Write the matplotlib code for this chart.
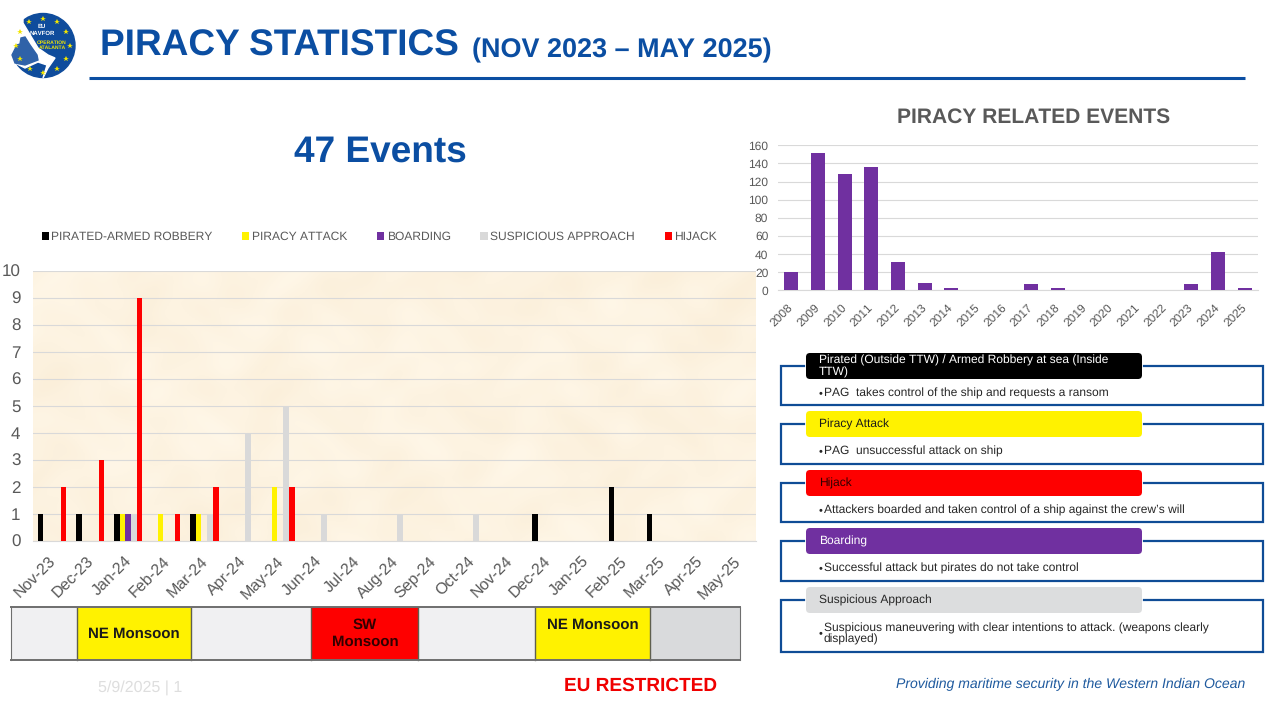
import numpy as np
import matplotlib
matplotlib.use('Agg')
import matplotlib.pyplot as plt
from matplotlib.patches import Circle, FancyBboxPatch, Polygon, Rectangle
from matplotlib.transforms import ScaledTranslation

plt.rcParams['font.family'] = ['Liberation Sans', 'DejaVu Sans']
plt.rcParams['text.hinting'] = 'no_hinting'
plt.rcParams['text.hinting_factor'] = 1

months = ['Nov-23', 'Dec-23', 'Jan-24', 'Feb-24', 'Mar-24', 'Apr-24', 'May-24', 'Jun-24', 'Jul-24', 'Aug-24',
          'Sep-24', 'Oct-24', 'Nov-24', 'Dec-24', 'Jan-25', 'Feb-25', 'Mar-25', 'Apr-25', 'May-25']
pirated = [1, 1, 1, 0, 1, 0, 0, 0, 0, 0, 0, 0, 0, 1, 0, 2, 1, 0, 0]
attack = [0, 0, 1, 1, 1, 0, 2, 0, 0, 0, 0, 0, 0, 0, 0, 0, 0, 0, 0]
boarding = [0, 0, 1, 0, 0, 0, 0, 0, 0, 0, 0, 0, 0, 0, 0, 0, 0, 0, 0]
suspicious = [0, 0, 1, 0, 1, 4, 5, 1, 0, 1, 0, 1, 0, 0, 0, 0, 0, 0, 0]
hijack = [2, 3, 9, 1, 2, 0, 2, 0, 0, 0, 0, 0, 0, 0, 0, 0, 0, 0, 0]

years = ['2008', '2009', '2010', '2011', '2012', '2013', '2014', '2015', '2016', '2017', '2018', '2019',
         '2020', '2021', '2022', '2023', '2024', '2025']
year_events = [20, 151, 128, 136, 31, 8, 3, 0, 0, 7, 2, 0.5, 0, 0, 0, 7, 42, 3]

BLUE = '#0b4ea2'
BOX_BLUE = '#0f4c96'
GREY_TXT = '#595959'
GRID = '#d9d9d9'

W, H = 1280, 720


def px_axes(left, top, right, bottom):
    return fig.add_axes([left / W, 1 - bottom / H, (right - left) / W, (bottom - top) / H])


def shift_labels(axis, dx_px):
    # excel puts the rotated labels a bit left of where matplotlib anchors them
    off = ScaledTranslation(dx_px / 100, 0, fig.dpi_scale_trans)
    for lab in axis.get_xticklabels():
        lab.set_transform(lab.get_transform() + off)


fig = plt.figure(figsize=(12.8, 7.2), dpi=100, facecolor='white')

# main chart
ax = px_axes(33, 270.7, 756, 541)
x = np.arange(len(months))
bar_w = 0.15
series = [('PIRATED-ARMED ROBBERY', pirated, 'black'),
          ('PIRACY ATTACK', attack, '#fff200'),
          ('BOARDING', boarding, '#7030a0'),
          ('SUSPICIOUS APPROACH', suspicious, '#d9d9d9'),
          ('HIJACK', hijack, '#fe0000')]
for i, (name, vals, col) in enumerate(series):
    ax.bar(x + (i - 2) * bar_w, vals, bar_w, color=col, label=name, zorder=3)

# parchment background, only decoration
gx, gy = np.meshgrid(np.arange(0, 723, 2.0), np.arange(0, 271, 2.0))
tex = (np.sin(gx / 31 + 1.5 * np.sin(gy / 43)) * np.sin(gy / 27 + 1.5 * np.sin(gx / 37))
       + 0.6 * np.sin(gx / 13 + 1.2 * np.sin(gy / 17)) * np.sin(gy / 11 + 1.2 * np.sin(gx / 19)))
tex = tex / np.abs(tex).max()
base = np.array([253, 243, 225]) / 255
amp = np.array([2, 4, 7]) / 255
ax.imshow(base + tex[..., None] * amp, extent=(0, 1, 0, 1), transform=ax.transAxes, aspect='auto', zorder=0)

ax.set_xlim(-0.5, len(months) - 0.5)
ax.set_ylim(0, 10)
ax.set_yticks(range(11))
ax.set_xticks(x)
ax.set_xticklabels(months, rotation=45, ha='right', rotation_mode='anchor', fontsize=11.3, color=GREY_TXT)
ax.tick_params(axis='y', length=0, pad=9, labelsize=12, labelcolor=GREY_TXT)
ax.tick_params(axis='x', length=0, pad=9)
shift_labels(ax, -4)
ax.grid(axis='y', color=GRID, lw=0.8, zorder=1)
ax.set_axisbelow(False)
for s in ax.spines.values():
    s.set_visible(False)
ax.spines['bottom'].set_visible(True)
ax.spines['bottom'].set_color(GRID)
for gl in ax.get_ygridlines():
    gl.set_zorder(1)

ax.legend(loc='center left', bbox_to_anchor=(41.5 / W, 1 - 237 / H), bbox_transform=fig.transFigure, ncols=5,
          frameon=False, fontsize=8.6, labelcolor=GREY_TXT, handlelength=0.6, handleheight=0.6,
          handletextpad=0.2, columnspacing=2.5, borderpad=0, borderaxespad=0)

# small chart
ax2 = px_axes(778, 145.3, 1258, 290.3)
ax2.bar(range(len(years)), year_events, 0.52, color='#7030a0', zorder=3)
ax2.set_xlim(-0.5, len(years) - 0.5)
ax2.set_ylim(0, 160)
ax2.set_yticks(range(0, 161, 20))
ax2.set_xticks(range(len(years)))
ax2.set_xticklabels(years, rotation=45, ha='right', rotation_mode='anchor', fontsize=8.4, color=GREY_TXT)
ax2.tick_params(axis='y', length=0, pad=7, labelsize=8.6, labelcolor=GREY_TXT)
ax2.tick_params(axis='x', length=0, pad=8.5)
shift_labels(ax2, -4)
ax2.grid(axis='y', color=GRID, lw=0.8, zorder=1)
ax2.patch.set_alpha(0)
for s in ax2.spines.values():
    s.set_visible(False)
ax2.spines['bottom'].set_visible(True)
ax2.spines['bottom'].set_color(GRID)

# everything else sits on a pixel overlay
ov = fig.add_axes([0, 0, 1, 1], zorder=-1)
ov.set_xlim(0, W)
ov.set_ylim(H, 0)
ov.axis('off')

ov.text(100, 56, 'PIRACY STATISTICS', fontsize=26.85, fontweight='bold', color=BLUE, va='baseline')
ov.text(472, 57, '(NOV 2023 \u2013 MAY 2025)', fontsize=19.5, fontweight='bold', color=BLUE, va='baseline')
ov.plot([89, 1245], [78, 78], color=BLUE, lw=2.2, solid_capstyle='butt')
ov.text(380.5, 152, '47 Events', fontsize=26.8, fontweight='bold', color=BLUE, ha='center', va='center')
ov.text(1034, 117, 'PIRACY RELATED EVENTS', fontsize=14.9, fontweight='bold', color=GREY_TXT, ha='center', va='center')

# logo
ov.add_patch(Circle((43, 45.5), 32, color='#0f4c9c', zorder=2))
ov.add_patch(Polygon([[5, 5], [23, 5], [23, 23], [38, 48], [48, 55], [55, 58], [48, 68], [43, 78], [47, 65], [38, 62],
                      [25, 68], [15, 63], [5, 60]], closed=True, color='white', zorder=3))
ov.add_patch(Polygon([[12, 55], [17, 45], [20, 44], [21, 38], [25, 37], [30, 45], [37, 55], [38, 60], [25, 65],
                      [15, 63]], closed=True, color='#2f62a8', zorder=3.5))
for ang in np.arange(0, 360, 30):
    ov.plot(43 + 27 * np.cos(np.radians(ang)), 45.5 + 27 * np.sin(np.radians(ang)), marker='*', ms=4,
            color='#f2e600', mew=0, zorder=4)
ov.text(42, 26, 'EU', fontsize=4.2, fontweight='bold', color='white', ha='center', va='center', zorder=5)
ov.text(42, 33, 'NAVFOR', fontsize=4.2, fontweight='bold', color='white', ha='center', va='center', zorder=5)
ov.text(52, 43, 'OPERATION', fontsize=3.7, fontweight='bold', color='#f2e600', ha='center', va='center', zorder=5)
ov.text(52, 48, 'ATALANTA', fontsize=3.7, fontweight='bold', color='#f2e600', ha='center', va='center', zorder=5)

# monsoon strip
strip_edges = [11, 77, 191, 310.5, 417.5, 534.6, 649.5, 740]
strip_cols = ['#f0f0f2', '#fff200', '#f0f0f2', '#fe0000', '#f0f0f2', '#fff200', '#d9dadc']
for i, col in enumerate(strip_cols):
    ov.add_patch(Rectangle((strip_edges[i], 606.5), strip_edges[i + 1] - strip_edges[i], 53.5, facecolor=col,
                           edgecolor='none', zorder=2))
for e in strip_edges[1:-1]:
    ov.plot([e, e], [606.5, 660], color='#5f5f4f', lw=1, zorder=3)
for yy in (606.5, 660):
    ov.plot([11, 740], [yy, yy], color='#6e6e6e', lw=1.4, zorder=3)
for e in (11, 740):
    ov.plot([e, e], [606.5, 660], color='#6e6e6e', lw=0.8, zorder=3)
ov.text(134, 634, 'NE Monsoon', fontsize=10.7, fontweight='bold', color='#1a1a1a', ha='center', va='center', zorder=4)
ov.text(593, 625, 'NE Monsoon', fontsize=10.7, fontweight='bold', color='#1a1a1a', ha='center', va='center', zorder=4)
ov.text(365, 633.5, 'SW\nMonsoon', fontsize=10.7, fontweight='bold', color='#300000', ha='center', va='center',
        linespacing=1.25, zorder=4)

# footer
ov.text(140, 688, '5/9/2025 | 1', fontsize=11.4, color='#dedede', ha='center', va='center')
ov.text(641, 685.5, 'EU RESTRICTED', fontsize=13.6, fontweight='bold', color='#f00000', ha='center', va='center')
ov.text(1245, 684, 'Providing maritime security in the Western Indian Ocean', fontsize=10.05, style='italic',
        color='#1f5a9e', ha='right', va='center')

# definitions on the right
box_tops = [365.7, 423.7, 482.7, 541, 600]
box_bottoms = [405, 464, 522, 581, 652]
head_tops = [353, 411, 470, 528, 587]
head_cols = ['black', '#fff200', '#fe0000', '#7030a0', '#dcddde']
head_txt_cols = ['white', '#1a1a1a', '#300000', 'white', '#262626']
head_txt = ['Pirated (Outside TTW) / Armed Robbery at sea (Inside\nTTW)', 'Piracy Attack', 'Hijack', 'Boarding',
            'Suspicious Approach']
body_txt = ['PAG  takes control of the ship and requests a ransom',
            'PAG  unsuccessful attack on ship',
            'Attackers boarded and taken control of a ship against the crew\u2019s will',
            'Successful attack but pirates do not take control',
            'Suspicious maneuvering with clear intentions to attack. (weapons clearly\ndisplayed)']
for top, bot, htop, hcol, tcol, ht, bt in zip(box_tops, box_bottoms, head_tops, head_cols, head_txt_cols, head_txt, body_txt):
    ov.plot([804, 780.5, 780.5, 1263, 1263, 1144], [top, top, bot, bot, top, top], color=BOX_BLUE, lw=1.6,
            solid_joinstyle='miter', zorder=2)
    ov.add_patch(FancyBboxPatch((806, htop), 336, 26, boxstyle='round,pad=0,rounding_size=4', facecolor=hcol,
                                edgecolor='none', zorder=3))
    ov.text(819, htop + 13.5, ht, fontsize=8.6, color=tcol, va='center', linespacing=1.0, zorder=4)
    ov.text(818.5, (htop + 26 + bot) / 2 + 1, '\u2022', fontsize=8, color='#262626', va='center', zorder=4)
    ov.text(824, (htop + 26 + bot) / 2 + 1, bt, fontsize=8.65, color='#262626', va='center', linespacing=1.0, zorder=4)

fig.savefig('out.png', dpi=100)
